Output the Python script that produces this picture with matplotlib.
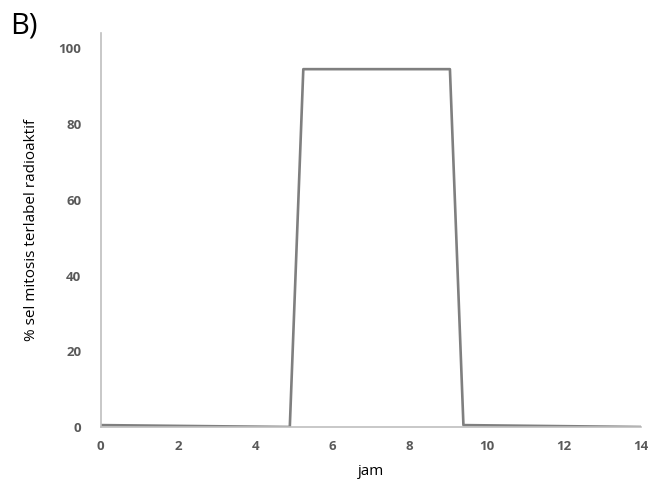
import matplotlib
matplotlib.use("Agg")
from matplotlib import pyplot as plt

# hours and % of labelled mitotic cells
jam = [0, 4.9, 5.25, 9.05, 9.4, 14]
persen = [0.5, 0, 94.5, 94.5, 0.5, 0]

x_ticks = [0, 2, 4, 6, 8, 10, 12, 14]
y_ticks = [0, 20, 40, 60, 80, 100]

fig = plt.figure(figsize=(6.5, 4.88), dpi=100)
ax = fig.add_axes([0.155, 0.125, 0.831, 0.807])

ax.plot(jam, persen, color="#7f7f7f", linewidth=1.9)

ax.set_xlim(0, 14)
ax.set_ylim(0, 104)
ax.set_xticks(x_ticks)
ax.set_yticks(y_ticks)
for lbl in ax.get_xticklabels() + ax.get_yticklabels():
    lbl.set_fontfamily("Open Sans")
    lbl.set_fontweight("bold")
    lbl.set_fontsize(9.5)
    lbl.set_color("#595959")
ax.tick_params(axis="x", length=0, pad=9)
ax.tick_params(axis="y", length=0, pad=14)

for s in ["top", "right"]:
    ax.spines[s].set_visible(False)
for s in ["left", "bottom"]:
    ax.spines[s].set_color("#bfbfbf")
    ax.spines[s].set_linewidth(1.2)

ax.set_xlabel("jam", fontsize=11, fontfamily="Open Sans")
ax.xaxis.set_label_coords(0.5, -0.095)
ax.set_ylabel("% sel mitosis terlabel radioaktif", fontsize=11,
              fontfamily="Open Sans")
ax.yaxis.set_label_coords(-0.114, 0.5)
fig.text(0.015, 0.932, "B)", fontsize=21, fontfamily="Open Sans")

fig.savefig("out.png")
